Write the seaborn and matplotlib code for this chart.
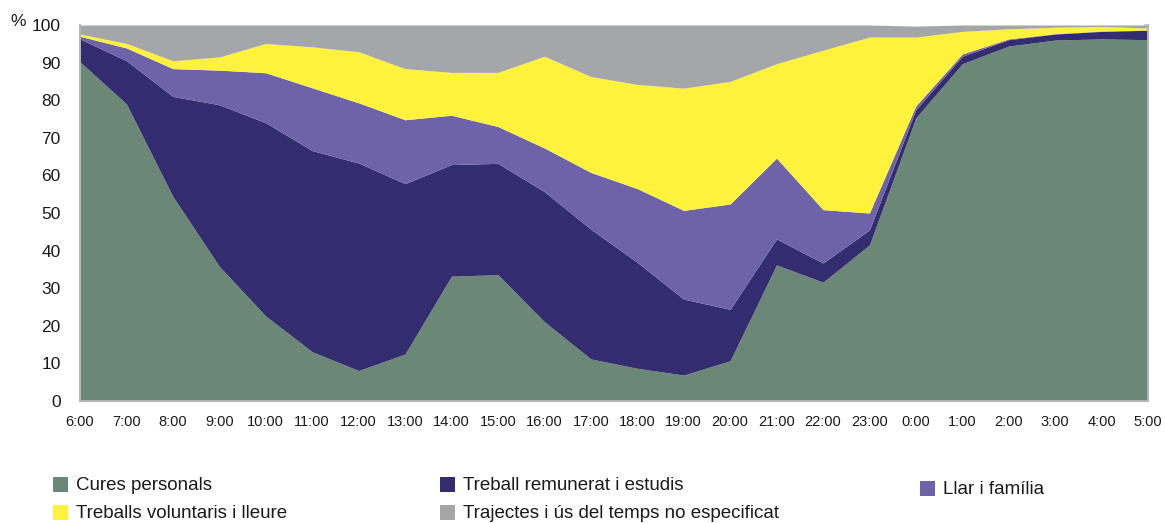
import matplotlib
matplotlib.use("Agg")
import matplotlib.pyplot as plt
import seaborn as sns
import numpy as np
from matplotlib.patches import Rectangle

hours = ["6:00", "7:00", "8:00", "9:00", "10:00", "11:00", "12:00", "13:00",
         "14:00", "15:00", "16:00", "17:00", "18:00", "19:00", "20:00", "21:00",
         "22:00", "23:00", "0:00", "1:00", "2:00", "3:00", "4:00", "5:00"]

cures = [90.2, 79.0, 54.4, 35.8, 22.6, 13.1, 8.1, 12.5, 33.2, 33.6, 21.1, 11.2,
         8.7, 6.9, 10.7, 36.2, 31.6, 41.5, 75.3, 89.7, 94.4, 96.0, 96.3, 96.1]
treball = [6.1, 11.5, 26.6, 43.0, 51.4, 53.5, 55.2, 45.3, 29.7, 29.6, 34.6, 34.5,
           28.2, 20.2, 13.7, 6.9, 5.1, 4.0, 2.2, 2.0, 1.7, 1.6, 2.0, 2.5]
llar = [0.7, 3.4, 7.4, 9.2, 13.3, 16.7, 16.0, 17.0, 13.1, 9.8, 11.6, 15.1,
        19.6, 23.6, 28.0, 21.5, 14.2, 4.5, 1.0, 0.6, 0.2, 0.1, 0.1, 0.1]
voluntaris = [0.6, 1.2, 2.1, 3.5, 7.8, 10.9, 13.6, 13.6, 11.4, 14.4, 24.4, 25.5,
              27.7, 32.5, 32.6, 25.1, 42.4, 46.8, 18.3, 6.0, 2.7, 1.7, 1.2, 0.5]
trajectes = [2.4, 4.9, 9.5, 8.5, 4.9, 5.8, 7.1, 11.6, 12.6, 12.6, 8.3, 13.7,
             15.8, 16.8, 15.0, 10.3, 6.7, 3.2, 2.9, 1.7, 1.0, 0.6, 0.4, 0.8]

series_names = ["Cures personals", "Treball remunerat i estudis", "Llar i família",
                "Treballs voluntaris i lleure", "Trajectes i ús del temps no especificat"]
colors = ["#6b8776", "#332d6f", "#6e62a8", "#fff23d", "#a5a6aa"]
yticks = [0, 10, 20, 30, 40, 50, 60, 70, 80, 90, 100]

sns.set_theme(style="white")
plt.rcParams["font.family"] = ["Liberation Sans", "DejaVu Sans"]

fig = plt.figure(figsize=(11.65, 5.23), dpi=100)
ax = fig.add_axes([80 / 1165, (523 - 401) / 523, (1148 - 80) / 1165, (401 - 25) / 523])

x = np.arange(len(hours))
ax.stackplot(x, cures, treball, llar, voluntaris, trajectes, colors=colors,
             linewidth=0)

ax.set_xlim(0, len(hours) - 1)
ax.set_ylim(0, 100)
ax.set_xticks(x)
ax.set_xticklabels(hours, fontsize=10.5, color="#1a1a1a")
ax.set_yticks(yticks)
ax.set_yticklabels([str(v) for v in yticks], fontsize=12.5, color="#1a1a1a")

for s in ["top"]:
    ax.spines[s].set_visible(False)
for s in ["left", "bottom", "right"]:
    ax.spines[s].set_color("#b4b4b4")
    ax.spines[s].set_linewidth(1.4)

ax.tick_params(axis="y", left=False, right=True, direction="in", length=3,
               color="#c8c8c8", pad=14, labelright=False)
ax.tick_params(axis="x", bottom=False, pad=4)

fig.text(10 / 1165, 1 - 21 / 523, "%", fontsize=12.5, va="center", ha="left",
         color="#1a1a1a")

# legend
leg_items = [
    (53, 485, series_names[0], colors[0]),
    (440, 485, series_names[1], colors[1]),
    (920, 489, series_names[2], colors[2]),
    (53, 513, series_names[3], colors[3]),
    (440, 513, series_names[4], colors[4]),
]
W, H = 1165, 523
for px, py, name, col in leg_items:
    fig.patches.append(Rectangle((px / W, 1 - (py + 7) / H), 15 / W, 15 / H,
                                 transform=fig.transFigure, facecolor=col,
                                 edgecolor="none"))
    fig.text((px + 23) / W, 1 - py / H, name, fontsize=13.5, va="center",
             ha="left", color="#1a1a1a")

fig.savefig("out.png", dpi=100)
